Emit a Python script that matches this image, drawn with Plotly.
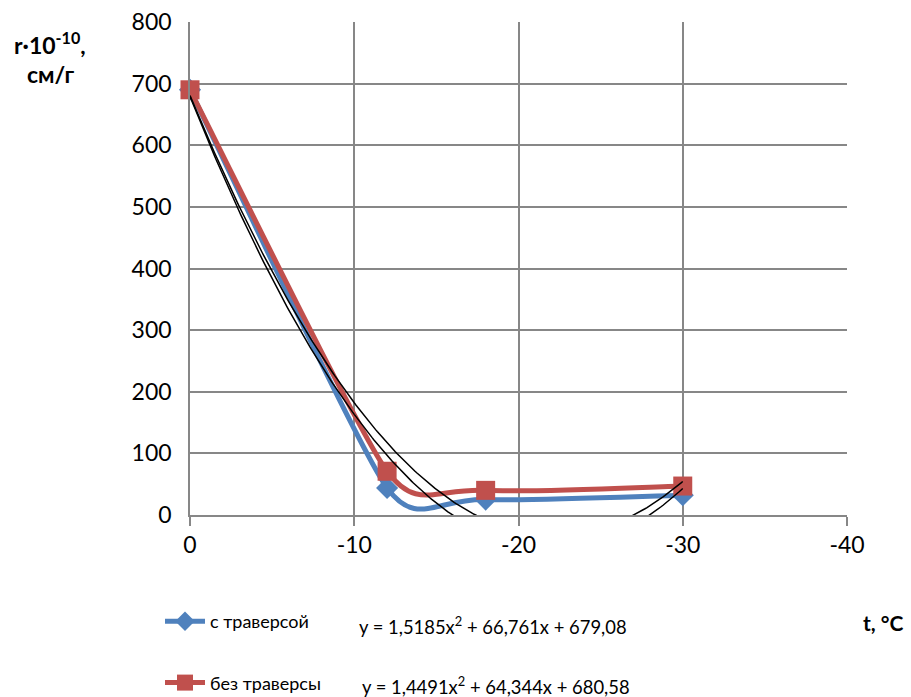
import numpy as np
import plotly.graph_objects as go

# Temperature points, °C
t_points = [0, -12, -18, -30]

# Specific resistance r·10^-10, cm/g
r_with_traverse = [690, 44, 25, 32]
r_without_traverse = [690, 71, 40, 47]

# Quadratic trend coefficients (a, b, c) for y = a*x^2 + b*x + c
trend_with = (1.5185, 66.761, 679.08)
trend_without = (1.4491, 64.344, 680.58)

series_names = ["с траверсой", "без траверсы"]
x_ticks = [0, -10, -20, -30, -40]
y_ticks = [0, 100, 200, 300, 400, 500, 600, 700, 800]

BLUE = "#4F81BD"
RED = "#C0504D"
GRID = "#878787"
FONT = "Lato"

L, R, T, B = 190, 64, 22, 182
W, H = 911, 697
pw, ph = W - L - R, H - T - B
X_RANGE = [0, -40]
Y_RANGE = [0, 800]
sx = pw / abs(X_RANGE[1] - X_RANGE[0])
sy = ph / abs(Y_RANGE[1] - Y_RANGE[0])


def smooth_path(xs, ys):
    """Bezier path through the points with spreadsheet-style smoothing:
    tangent along neighbours, arm length limited by adjacent segments."""
    p = [np.array([x, y], float) for x, y in zip(xs, ys)]
    n = len(p)

    def dist(a, b):
        d = (b - a) * [sx, sy]
        return float(np.hypot(*d))

    arms = []
    for i in range(n):
        prev = p[max(i - 1, 0)]
        nxt = p[min(i + 1, n - 1)]
        tan = nxt - prev
        d02 = dist(prev, nxt)
        f = 1 / 6
        if 0 < i < n - 1 and d02 > 0:
            f = min(f, dist(p[i - 1], p[i]) / (2 * d02),
                    dist(p[i], p[i + 1]) / (2 * d02))
        arms.append(f * tan)

    path = f"M {p[0][0]},{p[0][1]}"
    for i in range(n - 1):
        c1 = p[i] + arms[i]
        c2 = p[i + 1] - arms[i + 1]
        path += (f" C {c1[0]},{c1[1]} {c2[0]},{c2[1]} "
                 f"{p[i + 1][0]},{p[i + 1][1]}")
    return path


fig = go.Figure()

series = [
    (series_names[0], r_with_traverse, BLUE, "diamond", 17),
    (series_names[1], r_without_traverse, RED, "square", 19),
]

# Smoothed series lines
for name, vals, color, sym, size in series:
    fig.add_shape(type="path", path=smooth_path(t_points, vals),
                  xref="x", yref="y", layer="between",
                  line=dict(color=color, width=5))

# Markers and legend entries
for name, vals, color, sym, size in series:
    fig.add_trace(go.Scatter(
        x=t_points, y=vals, mode="markers", showlegend=False,
        marker=dict(symbol=sym, size=size, color=color),
        cliponaxis=False, name=name,
    ))
for name, vals, color, sym, size in series:
    fig.add_trace(go.Scatter(
        x=[None], y=[None], name=name, mode="lines+markers",
        legendgroup=name,
        line=dict(color=color, width=5),
        marker=dict(symbol=sym, size=size - 2, color=color),
    ))

# Polynomial trendlines over the measured interval
tx = np.linspace(0, -30, 301)
for a, b, c in (trend_with, trend_without):
    fig.add_trace(go.Scatter(
        x=tx, y=a * tx**2 + b * tx + c, mode="lines",
        line=dict(color="black", width=1.5),
        showlegend=False, hoverinfo="skip",
    ))


def px(x):
    return (x - L) / pw


def py(y):
    return (H - B - y) / ph


def eq_text(a, b, c):
    f = lambda v: f"{v}".replace(".", ",")
    return f"y = {f(a)}x<sup>2</sup> + {f(b)}x + {f(c)}"


annotations = [
    dict(x=px(357), y=py(625), text=eq_text(*trend_with)),
    dict(x=px(360), y=py(685), text=eq_text(*trend_without)),
]
for an in annotations:
    an.update(xref="paper", yref="paper", xanchor="left", yanchor="middle",
              showarrow=False, font=dict(family=FONT, size=18.4, color="black"))

annotations += [
    dict(x=px(50), y=py(44), text="<b>r·10<sup>-10</sup>,</b>"),
    dict(x=px(51), y=py(74), text="<b>см/г</b>"),
]
for an in annotations[2:]:
    an.update(xref="paper", yref="paper", xanchor="center", yanchor="middle",
              showarrow=False, font=dict(family=FONT, size=23, color="black"))

annotations.append(dict(
    x=px(906), y=py(622), text="<b>t, °C</b>", xref="paper", yref="paper",
    xanchor="right", yanchor="middle", showarrow=False,
    font=dict(family=FONT, size=21, color="black"),
))

fig.update_layout(
    width=W, height=H,
    margin=dict(l=L, r=R, t=T, b=B, autoexpand=False),
    paper_bgcolor="white", plot_bgcolor="white",
    font=dict(family=FONT, size=23, color="black"),
    annotations=annotations,
    legend=dict(
        x=px(160), y=py(603), xanchor="left", yanchor="top",
        font=dict(family=FONT, size=18, color="black"),
        traceorder="grouped", tracegroupgap=35, itemwidth=40,
        bgcolor="rgba(0,0,0,0)",
    ),
    xaxis=dict(
        range=X_RANGE, tickvals=x_ticks, ticktext=[str(v) for v in x_ticks],
        showgrid=True, gridcolor=GRID, gridwidth=1.5,
        showline=True, linecolor=GRID, linewidth=1.5,
        ticks="outside", ticklen=9, tickcolor=GRID, tickwidth=1.5,
        zeroline=False, tickfont=dict(size=23), automargin=False,
    ),
    yaxis=dict(
        range=Y_RANGE, tickvals=y_ticks,
        showgrid=True, gridcolor=GRID, gridwidth=1.5,
        showline=True, linecolor=GRID, linewidth=1.5,
        ticks="", zeroline=False, tickfont=dict(size=23),
        ticklabelstandoff=12, automargin=False,
    ),
)

fig.write_html("out.html")
